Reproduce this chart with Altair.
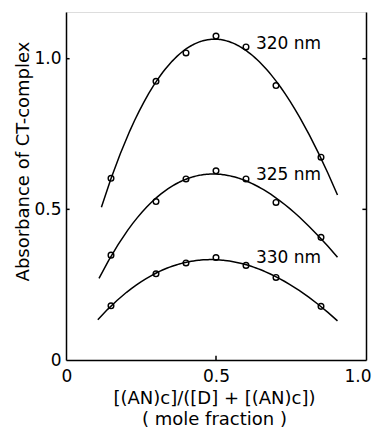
import altair as alt
import pandas as pd

# ---- data ----
mole_fraction = [0.15, 0.30, 0.40, 0.50, 0.60, 0.70, 0.85]
abs_320 = [0.603, 0.925, 1.019, 1.075, 1.039, 0.911, 0.673]
abs_325 = [0.348, 0.526, 0.601, 0.628, 0.601, 0.523, 0.407]
abs_330 = [0.180, 0.286, 0.322, 0.340, 0.314, 0.274, 0.178]
series_names = ["320 nm", "325 nm", "330 nm"]
curve_start = [0.118, 0.110, 0.106]
curve_end = [0.905, 0.905, 0.905]
label_x = [0.633, 0.633, 0.633]
label_y = [1.048, 0.614, 0.339]

y_tick_values = [0.5, 1.0]
x_tick_values = [0.5]
x_label_values = [0.0, 0.5, 1.0]
y_label_values = [0.0, 0.5, 1.0]
y_top = 1.155
tick_len = 0.012

FONT = "DejaVu Sans"

rows = []
for name, vals in zip(series_names, [abs_320, abs_325, abs_330]):
    for xv, yv in zip(mole_fraction, vals):
        rows.append({"series": name, "x": xv, "y": yv})
df = pd.DataFrame(rows)

labels_df = pd.DataFrame({"series": series_names, "x": label_x, "y": label_y})

xscale = alt.Scale(domain=[0, 1], nice=False, zero=False)
yscale = alt.Scale(domain=[0, y_top], nice=False, zero=False)

x_axis = alt.Axis(
    values=x_label_values,
    labelExpr="datum.value == 0 ? '0' : format(datum.value, '.1f')",
    title=["[(AN)c]/([D] + [(AN)c])", "( mole  fraction )"],
    titleFont=FONT, titleFontSize=18, titleFontWeight="normal",
    titleLineHeight=21, titleBaseline="top", titleY=29, titleX=148,
    titleColor="black",
    labelFont=FONT, labelFontSize=17, labelColor="black", labelPadding=8,
    labelFlush=True, labelFlushOffset=5, labelOverlap=False,
    ticks=False, tickSize=0, grid=False,
    domainColor="black", domainWidth=1.5,
)
y_axis = alt.Axis(
    values=y_label_values,
    labelExpr="datum.value == 0 ? '0' : format(datum.value, '.1f')",
    title="Absorbance of CT-complex",
    titleFont=FONT, titleFontSize=18, titleFontWeight="normal",
    titleColor="black", titleAngle=270, titleBaseline="middle",
    titleX=-43, titleY=149, titleAlign="center",
    labelFont=FONT, labelFontSize=17, labelColor="black", labelPadding=5,
    labelFlush=False, labelOverlap=False,
    ticks=False, tickSize=0, grid=False,
    domainColor="black", domainWidth=1.5,
)
y_axis_right = alt.Axis(
    orient="right", labels=False, ticks=False, tickSize=0, grid=False,
    title=None, domainColor="black", domainWidth=1.5,
)


def xenc(field):
    return alt.X(field, scale=xscale, axis=x_axis)


def yenc(field, axis=None):
    return alt.Y(field, scale=yscale, axis=axis)


base = alt.Chart(df)

points = base.mark_point(
    shape="circle", size=32, fill="white", fillOpacity=1,
    stroke="black", strokeWidth=1.4, opacity=1,
).encode(
    x=xenc("x:Q"),
    y=yenc("y:Q", y_axis),
)

curves = []
for name, s, e in zip(series_names, curve_start, curve_end):
    c = base.transform_filter(
        alt.datum.series == name
    ).transform_regression(
        "x", "y", method="poly", order=3, extent=[s, e]
    ).mark_line(color="black", strokeWidth=1.5).encode(
        x=xenc("x:Q"),
        y=yenc("y:Q"),
    )
    curves.append(c)

right_axis = alt.Chart(pd.DataFrame({"y": [0.0], "x": [0.0]})).mark_point(opacity=0).encode(
    x=xenc("x:Q"),
    y=yenc("y:Q", y_axis_right),
)

# inward tick marks
lt_df = pd.DataFrame({"y": y_tick_values, "x0": [0.0] * len(y_tick_values),
                      "x1": [tick_len] * len(y_tick_values)})
rt_df = pd.DataFrame({"y": y_tick_values, "x0": [1 - tick_len] * len(y_tick_values),
                      "x1": [1.0] * len(y_tick_values)})
bt_df = pd.DataFrame({"x": x_tick_values, "y0": [0.0] * len(x_tick_values),
                      "y1": [tick_len * 1.2] * len(x_tick_values)})

left_ticks = alt.Chart(lt_df).mark_rule(color="black", strokeWidth=1.5).encode(
    x=xenc("x0:Q"), x2="x1:Q",
    y=yenc("y:Q"),
)
right_ticks = alt.Chart(rt_df).mark_rule(color="black", strokeWidth=1.5).encode(
    x=xenc("x0:Q"), x2="x1:Q",
    y=yenc("y:Q"),
)
bottom_ticks = alt.Chart(bt_df).mark_rule(color="black", strokeWidth=1.5).encode(
    x=xenc("x:Q"),
    y=yenc("y0:Q"), y2="y1:Q",
)

labels = alt.Chart(labels_df).mark_text(
    align="left", baseline="middle", font=FONT, fontSize=17, color="black",
).encode(
    x=xenc("x:Q"),
    y=yenc("y:Q"),
    text="series:N",
)

chart = alt.layer(
    points, *curves, right_axis, left_ticks, right_ticks, bottom_ticks, labels
).resolve_axis(y="independent").properties(
    width=300, height=348,
    autosize=alt.AutoSizeParams(type="none"),
    padding={"left": 58, "top": 4, "right": 6, "bottom": 68},
).configure_view(stroke=None).configure(background="white")

chart.save("out.html", embed_options={"renderer": "svg", "actions": False})
